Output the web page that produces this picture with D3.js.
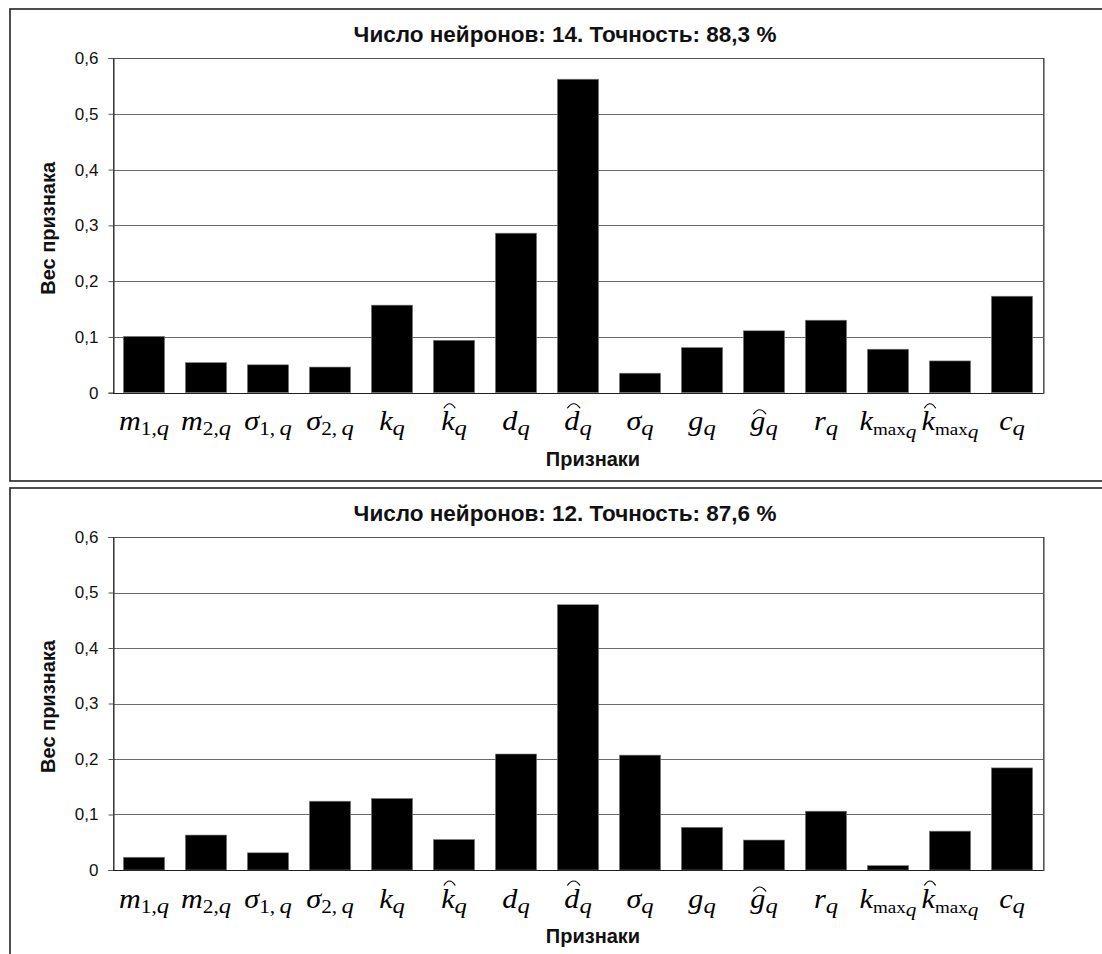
<!DOCTYPE html>
<html>
<head>
<meta charset="utf-8">
<script src="https://cdn.jsdelivr.net/npm/d3@7"></script>
<style>
  html, body { margin: 0; padding: 0; background: #fff; }
  svg { display: block; }
</style>
</head>
<body>
<svg id="chart" width="1102" height="954"></svg>
<script>
// Feature keys (x categories)
const categories = ["m1q", "m2q", "s1q", "s2q", "kq", "khq", "dq", "dhq", "sq", "gq", "ghq", "rq", "kmaxq", "khmaxq", "cq"];

// Feature weights, 14-neuron network
const weights14 = [0.101, 0.054, 0.050, 0.046, 0.157, 0.094, 0.286, 0.562, 0.035, 0.081, 0.111, 0.130, 0.078, 0.057, 0.173];
// Feature weights, 12-neuron network
const weights12 = [0.023, 0.063, 0.031, 0.124, 0.129, 0.055, 0.209, 0.478, 0.207, 0.077, 0.054, 0.106, 0.008, 0.070, 0.184];

const panelTitles = ["Число нейронов: 14. Точность: 88,3 %", "Число нейронов: 12. Точность: 87,6 %"];
const yTickValues = [0, 0.1, 0.2, 0.3, 0.4, 0.5, 0.6];
const yTickLabels = ["0", "0,1", "0,2", "0,3", "0,4", "0,5", "0,6"];
const yTitle = "Вес признака";
const xTitle = "Признаки";

// Math labels for each feature: tokens [text, role]; hat marks the first glyph
const featureLabels = {
  m1q:    { tokens: [["m", "it"], ["1,", "sub"], ["q", "subit"]] },
  m2q:    { tokens: [["m", "it"], ["2,", "sub"], ["q", "subit"]] },
  s1q:    { tokens: [["σ", "it"], ["1,\u2009", "sub"], ["q", "subit"]] },
  s2q:    { tokens: [["σ", "it"], ["2,\u2009", "sub"], ["q", "subit"]] },
  kq:     { tokens: [["k", "it"], ["q", "subit"]] },
  khq:    { tokens: [["k", "it"], ["q", "subit"]], hat: true },
  dq:     { tokens: [["d", "it"], ["q", "subit"]] },
  dhq:    { tokens: [["d", "it"], ["q", "subit"]], hat: true },
  sq:     { tokens: [["σ", "it"], ["q", "subit"]] },
  gq:     { tokens: [["g", "it"], ["q", "subit"]] },
  ghq:    { tokens: [["g", "it"], ["q", "subit"]], hat: true },
  rq:     { tokens: [["r", "it"], ["q", "subit"]] },
  kmaxq:  { tokens: [["k", "it"], ["max", "sub2"], ["q", "subsub"]] },
  khmaxq: { tokens: [["k", "it"], ["max", "sub2"], ["q", "subsub"]], hat: true },
  cq:     { tokens: [["c", "it"], ["q", "subit"]] }
};

const roleStyle = {
  it:     { size: 27, italic: true,  shift: 0 },
  sub:    { size: 19, italic: false, shift: 5 },
  sub2:   { size: 17, italic: false, shift: 5 },
  subit:  { size: 22, italic: true,  shift: 5 },
  subsub: { size: 19, italic: true,  shift: 8 }
};

const svg = d3.select("#chart");
const sans = "'Liberation Sans', Arial, sans-serif";
const serif = "'Liberation Serif', 'Times New Roman', serif";

// Layout of the two stacked panels
const panels = [
  { values: weights14, title: panelTitles[0], frameTop: 9,   plotTop: 58,  plotBottom: 392.7 },
  { values: weights12, title: panelTitles[1], frameTop: 488, plotTop: 537, plotBottom: 870 }
];
const plotLeft = 113, plotRight = 1043;

const x = d3.scaleBand().domain(categories).range([plotLeft, plotRight]).paddingInner(1 / 3).paddingOuter(1 / 6);

panels.forEach((p, pi) => {
  const g = svg.append("g");
  const y = d3.scaleLinear().domain([0, 0.6]).range([p.plotBottom, p.plotTop]);

  // outer frame
  g.append("rect")
    .attr("x", 10).attr("y", p.frameTop)
    .attr("width", 1110).attr("height", pi === 0 ? 472 : 480)
    .attr("fill", "none").attr("stroke", "#222").attr("stroke-width", 1.6);

  // gridlines
  g.append("g")
    .selectAll("line")
    .data(yTickValues.filter(v => v > 0))
    .join("line")
    .attr("x1", plotLeft).attr("x2", plotRight)
    .attr("y1", d => Math.round(y(d)) + 0.5).attr("y2", d => Math.round(y(d)) + 0.5)
    .attr("stroke", "#6a6a6a").attr("stroke-width", 1);

  // plot border
  g.append("rect")
    .attr("x", plotLeft + 0.5).attr("y", Math.round(p.plotTop) + 0.5)
    .attr("width", plotRight - plotLeft).attr("height", Math.round(p.plotBottom) - Math.round(p.plotTop))
    .attr("fill", "none").attr("stroke", "#555").attr("stroke-width", 1);
  g.append("line")
    .attr("x1", plotRight + 1.5).attr("x2", plotRight + 1.5)
    .attr("y1", p.plotTop).attr("y2", p.plotBottom + 1)
    .attr("stroke", "#999").attr("stroke-width", 1);

  // bars
  g.append("g")
    .selectAll("rect")
    .data(categories.map((c, i) => ({ c, v: p.values[i] })))
    .join("rect")
    .attr("x", d => x(d.c))
    .attr("width", x.bandwidth())
    .attr("y", d => y(d.v))
    .attr("height", d => y(0) - y(d.v))
    .attr("fill", "#000")
    .attr("stroke", "#888").attr("stroke-width", 0.6);

  // y axis
  const yAxis = d3.axisLeft(y)
    .tickValues(yTickValues)
    .tickFormat((d, i) => yTickLabels[i])
    .tickSize(5).tickPadding(10);
  const ya = g.append("g").attr("transform", `translate(${plotLeft + 0.5},0)`).call(yAxis);
  ya.select(".domain").attr("stroke", "#222");
  ya.selectAll(".tick line").attr("stroke", "#555");
  ya.selectAll(".tick text").attr("font-family", sans).attr("font-size", 17).attr("fill", "#111");

  // x axis baseline
  g.append("line")
    .attr("x1", plotLeft).attr("x2", plotRight)
    .attr("y1", Math.round(y(0)) + 0.5).attr("y2", Math.round(y(0)) + 0.5)
    .attr("stroke", "#222").attr("stroke-width", 1.2);

  // title
  g.append("text")
    .attr("x", 565).attr("y", p.frameTop + 33)
    .attr("text-anchor", "middle")
    .attr("font-family", sans).attr("font-weight", "bold").attr("font-size", 22.5)
    .attr("fill", "#111")
    .text(p.title);

  // y axis title
  g.append("text")
    .attr("transform", `translate(55,${(p.plotTop + p.plotBottom) / 2 + 3}) rotate(-90)`)
    .attr("text-anchor", "middle")
    .attr("font-family", sans).attr("font-weight", "bold").attr("font-size", 20)
    .attr("fill", "#111")
    .text(yTitle);

  // x axis title
  g.append("text")
    .attr("x", 593).attr("y", p.plotBottom + 73)
    .attr("text-anchor", "middle")
    .attr("font-family", sans).attr("font-weight", "bold").attr("font-size", 20)
    .attr("fill", "#111")
    .text(xTitle);

  // math labels for categories
  const baseline = p.plotBottom + 37.5;
  categories.forEach(c => {
    const spec = featureLabels[c];
    const cx = x(c) + x.bandwidth() / 2;
    const lg = g.append("g").attr("transform", `translate(${cx},${baseline}) scale(1.12,1)`);
    const t = lg.append("text").attr("font-family", serif).attr("fill", "#000");
    let prevShift = 0;
    spec.tokens.forEach(([txt, role]) => {
      const st = roleStyle[role];
      t.append("tspan")
        .attr("dy", st.shift - prevShift)
        .attr("font-size", st.size)
        .attr("font-style", st.italic ? "italic" : "normal")
        .text(txt);
      prevShift = st.shift;
    });
    const w = t.node().getComputedTextLength();
    t.attr("x", -w / 2);
    t.select("tspan").attr("x", -w / 2);
    if (spec.hat) {
      const ext = t.node().getExtentOfChar(0);
      const letter = spec.tokens[0][0];
      const topY = letter === "g" ? -16 : -22;
      const x0 = ext.x + ext.width * 0.2, x1 = ext.x + ext.width * 1.05;
      lg.append("path")
        .attr("d", `M${x0},${topY} Q${(x0 + x1) / 2},${topY - 9} ${x1},${topY}`)
        .attr("fill", "none").attr("stroke", "#000").attr("stroke-width", 1.1);
    }
  });
});
</script>
</body>
</html>
